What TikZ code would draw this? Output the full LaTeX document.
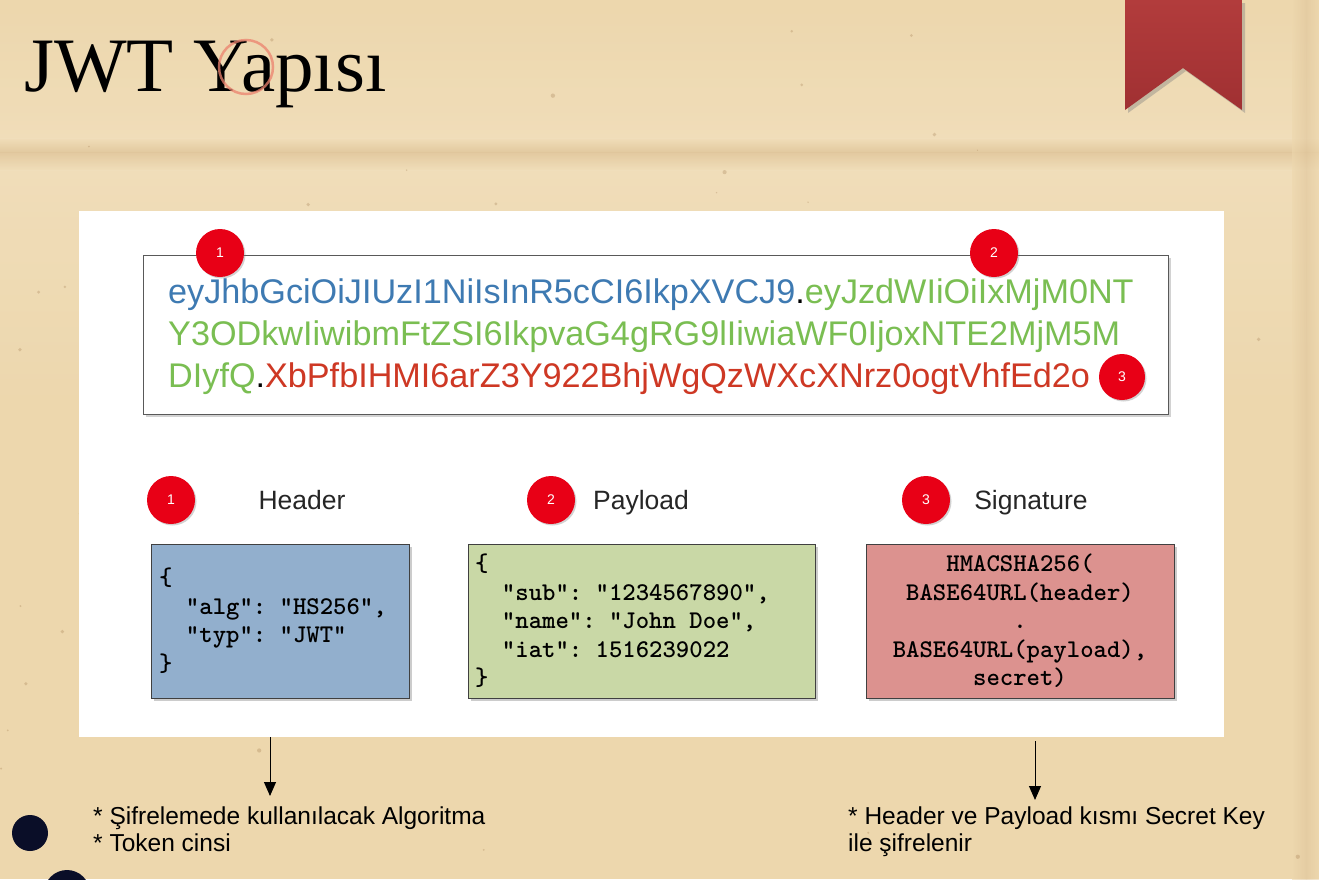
\documentclass[tikz,border=0pt]{standalone}
\usepackage{fontspec}
\setmainfont{Liberation Serif}
\setsansfont{Liberation Sans}
\usetikzlibrary{shadows,arrows.meta}

\definecolor{paper}{RGB}{237,215,173}
\definecolor{paperlight}{RGB}{241,223,188}
\definecolor{paperfold}{RGB}{224,198,156}
\definecolor{ribbon}{RGB}{160,48,50}
\definecolor{ribbontop}{RGB}{178,60,60}
\definecolor{tokblue}{RGB}{62,122,178}
\definecolor{tokgreen}{RGB}{122,190,82}
\definecolor{tokred}{RGB}{206,56,36}
\definecolor{badge}{RGB}{232,0,22}
\definecolor{hdrfill}{RGB}{146,175,205}
\definecolor{payfill}{RGB}{201,216,166}
\definecolor{sigfill}{RGB}{220,146,143}
\definecolor{ink}{RGB}{10,14,40}
\definecolor{ringcol}{RGB}{236,130,110}

\tikzset{
  badgenode/.style={circle, fill=badge, text=white, minimum size=48pt, inner sep=0pt,
    font=\sffamily\fontsize{14}{14}\selectfont,
    drop shadow={shadow xshift=1.5pt, shadow yshift=-1.5pt, opacity=0.35}},
  smallbadge/.style={badgenode, minimum size=46pt},
  partlabel/.style={anchor=base, inner sep=0pt, font=\sffamily\fontsize{26.5}{26.5}\selectfont, text=black!85},
  tokline/.style={anchor=base west, inner sep=0pt, font=\sffamily\fontsize{34.2}{34.2}\selectfont},
  codebox/.style={draw=black!75, line width=1pt, anchor=north west, inner sep=0pt,
    drop shadow={shadow xshift=2pt, shadow yshift=-2pt, opacity=0.4}},
  codetext/.style={anchor=north west, inner sep=0pt, align=left,
    font=\ttfamily\bfseries\fontsize{25.5}{28.5}\selectfont},
  note/.style={anchor=base west, inner sep=0pt,
    font=\sffamily\fontsize{24.5}{27}\selectfont},
  pointer/.style={draw=black, line width=1pt, -{Triangle[length=14pt,width=12pt]}},
}

\begin{document}
\begin{tikzpicture}[x=1pt,y=-1pt]
\useasboundingbox (0,0) rectangle (1319,879);
\begin{scope}
\clip (0,0) rectangle (1319,879);
% parchment background with a soft horizontal fold
\fill[paper] (0,0) rectangle (1319,879);
\shade[top color=paper, bottom color=paperlight, opacity=0.8] (0,0) rectangle (1319,138);
\shade[top color=paperlight, bottom color=paperfold, opacity=0.8] (0,138) rectangle (1319,152);
\shade[top color=paperfold, bottom color=paperlight, opacity=0.8] (0,152) rectangle (1319,170);
\shade[top color=paperlight, bottom color=paper, opacity=0.8] (0,170) rectangle (1319,420);
% vertical fold near the right edge
\shade[left color=paper, right color=paperfold, opacity=0.6] (1292,0) rectangle (1306,879);
\shade[left color=paperfold, right color=paper, opacity=0.6] (1306,0) rectangle (1319,879);
\pgfmathsetseed{11}
\foreach \i in {1,...,70}{
  \pgfmathsetmacro{\px}{rnd*1319}
  \pgfmathsetmacro{\py}{rnd*879}
  \pgfmathsetmacro{\pr}{0.6+rnd*1.6}
  \fill[brown!70!black, opacity=0.22] (\px,\py) circle[radius=\pr];
}
% ink blots
\fill[ink] (30,833) circle[radius=18];
\fill[ink] (67,893) circle[radius=23];
\end{scope}

% bookmark ribbon
\shade[top color=ribbontop, bottom color=ribbon,
  drop shadow={shadow xshift=3pt, shadow yshift=-3pt, opacity=0.4}]
  (1125,0) -- (1242,0) -- (1242,110) -- (1183,68) -- (1125,110) -- cycle;

% title
\node[anchor=base west, inner sep=0pt, font=\fontsize{77}{77}\selectfont] (title) at (24,91) {JWT Yapısı};
\draw[ringcol, line width=2.5pt, opacity=0.75] (246,67) circle[radius=27];

% white panel
\fill[white] (79,211) rectangle (1224,737);

% encoded token box
\node[draw=black!65, line width=1.2pt, fill=white, anchor=north west, minimum width=1025pt,
  minimum height=159pt, inner sep=0pt,
  drop shadow={shadow xshift=2pt, shadow yshift=-2pt, opacity=0.35}] (tokbox) at (143,255) {};
\node[tokline] (tok1) at (168,303)
  {\textcolor{tokblue}{eyJhbGciOiJIUzI1NiIsInR5cCI6IkpXVCJ9}.\textcolor{tokgreen}{eyJzdWIiOiIxMjM0NT}};
\node[tokline, text=tokgreen] (tok2) at (168,345) {Y3ODkwIiwibmFtZSI6IkpvaG4gRG9lIiwiaWF0IjoxNTE2MjM5M};
\node[tokline] (tok3) at (168,387)
  {\textcolor{tokgreen}{DIyfQ}.\textcolor{tokred}{XbPfbIHMI6arZ3Y922BhjWgQzWXcXNrz0ogtVhfEd2o}};
\node[badgenode] (b1) at (220,253) {1};
\node[badgenode] (b2) at (994,253) {2};
\node[smallbadge] (b3) at (1122,377) {3};

% part headings
\node[badgenode] (h1) at (171,500) {1};
\node[partlabel] (lh) at (302,509) {Header};
\node[badgenode] (h2) at (551,500) {2};
\node[partlabel] (lp) at (641,509) {Payload};
\node[badgenode] (h3) at (926,500) {3};
\node[partlabel] (ls) at (1031,509) {Signature};

% header box
\node[codebox, fill=hdrfill, minimum width=258pt, minimum height=154pt] (hdr) at (151,544) {};
\node[codetext] (hdrtxt) at (159,568) {\{\\\ \ "alg":\ "HS256",\\\ \ "typ":\ "JWT"\\\}};

% payload box
\node[codebox, fill=payfill, minimum width=347pt, minimum height=154pt] (pay) at (468,544) {};
\node[codetext] (paytxt) at (475,554)
  {\{\\\ \ "sub":\ "1234567890",\\\ \ "name":\ "John Doe",\\\ \ "iat":\ 1516239022\\\}};

% signature box
\node[codebox, fill=sigfill, minimum width=308pt, minimum height=154pt] (sig) at (866,544) {};
\node[codetext, anchor=north, align=center] (sigtxt) at (1020,554)
  {HMACSHA256(\\BASE64URL(header)\\.\\BASE64URL(payload),\\secret)};

% notes below
\coordinate (a1) at (270,737);
\coordinate (a2) at (1035,741);
\node[note] (n1a) at (93,824) {* Şifrelemede kullanılacak Algoritma};
\node[note] (n1b) at (93,851) {* Token cinsi};
\node[note] (n2a) at (848,824) {* Header ve Payload kısmı Secret Key};
\node[note] (n2b) at (848,851) {ile şifrelenir};
\draw[pointer] (a1) -- (270,796);
\draw[pointer] (a2) -- (1035,800);
\end{tikzpicture}
\end{document}
